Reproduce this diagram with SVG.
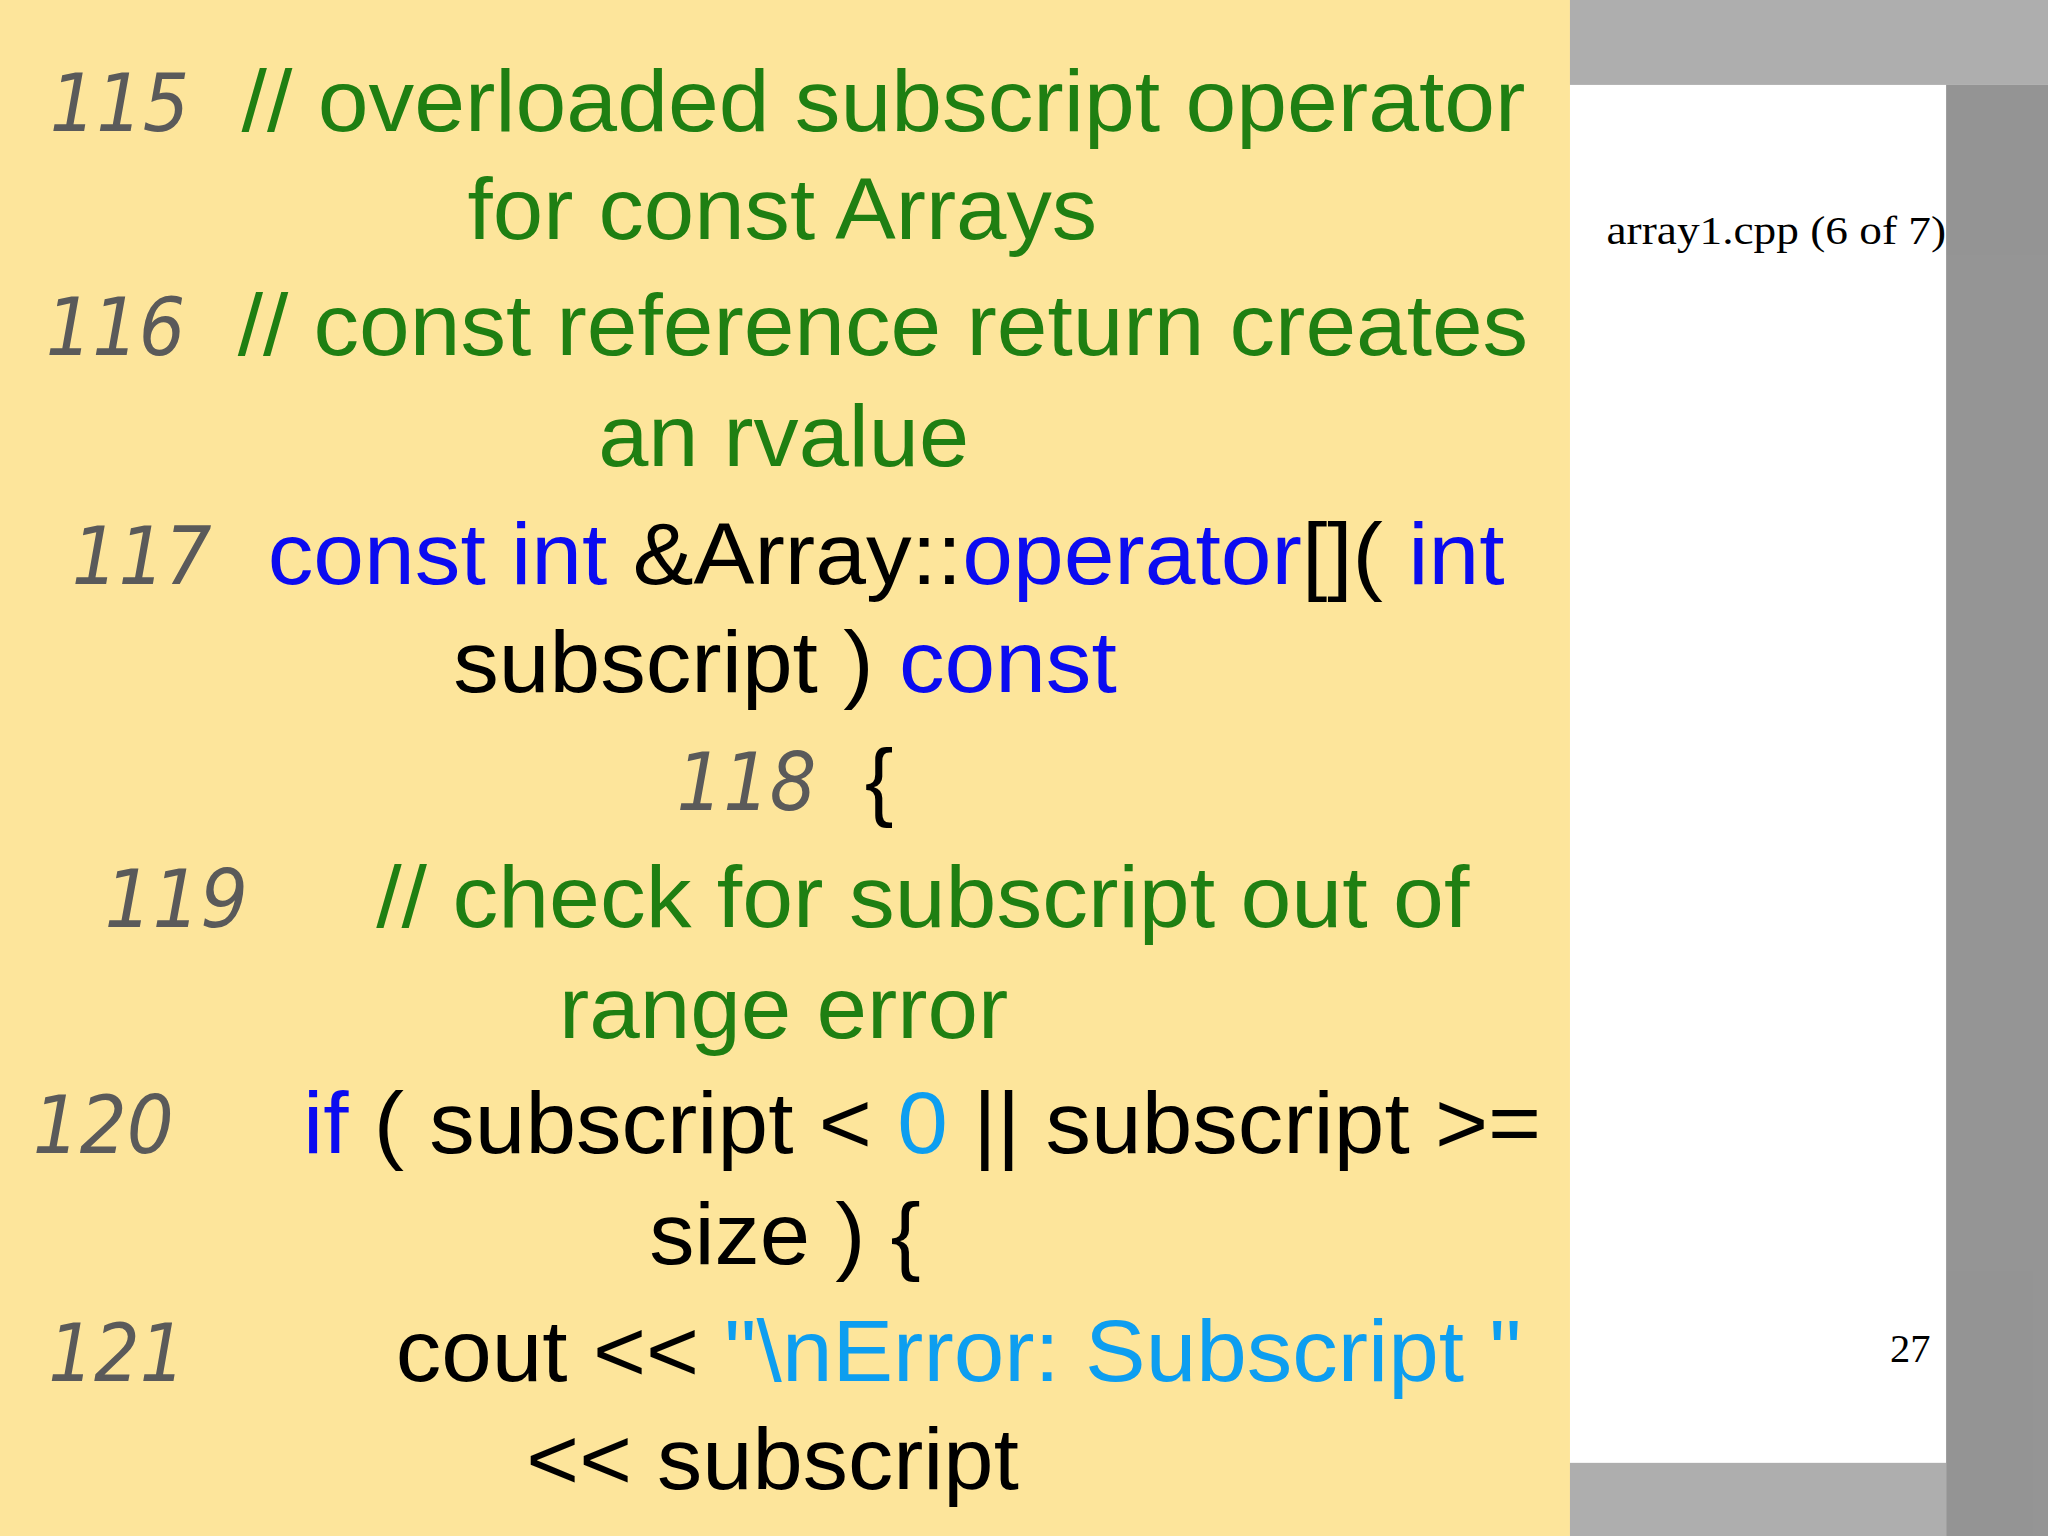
<svg xmlns="http://www.w3.org/2000/svg" width="2048" height="1536" viewBox="0 0 2048 1536">
<style>
.c{font-family:"Liberation Sans",Arial,sans-serif;font-size:66px}
.n{font-family:"DejaVu Sans",sans-serif;font-style:italic;font-size:62px;fill:#5a5a5a}
.g{fill:#1f7f12}.b{fill:#0b0bf0}.lb{fill:#0d9ef0}.k{fill:#000}
.s{font-family:"Liberation Serif","Times New Roman",serif;font-size:31px;fill:#000}
</style>
<g transform="scale(1.30612)">
<rect width="1568" height="1176" fill="#fff"/>
<rect width="1202" height="1176" fill="#fde59b"/>
<g id="deco" fill="#333" opacity="0.8">
<rect x="1202" y="0" width="366" height="65" fill="#9a9a9a"/>
<rect x="1490" y="65" width="78" height="1111" fill="#7a7a7a"/>
<rect x="1202" y="1120" width="288" height="56" fill="#9a9a9a"/>
</g>
<g id="l115"><text class="n" x="38" y="100" textLength="107" lengthAdjust="spacingAndGlyphs">115</text>
<text class="c g" x="185" y="100" textLength="983" lengthAdjust="spacingAndGlyphs">// overloaded subscript operator</text>
<text class="c g" x="358" y="183" textLength="482" lengthAdjust="spacingAndGlyphs">for const Arrays</text></g>
<g id="l116"><text class="n" x="35" y="272" textLength="107" lengthAdjust="spacingAndGlyphs">116</text>
<text class="c g" x="182" y="272" textLength="988" lengthAdjust="spacingAndGlyphs">// const reference return creates</text>
<text class="c g" x="458" y="357" textLength="284" lengthAdjust="spacingAndGlyphs">an rvalue</text></g>
<g id="l117"><text class="n" x="55" y="447" textLength="107" lengthAdjust="spacingAndGlyphs">117</text>
<text class="c k" x="205" y="447" textLength="947" lengthAdjust="spacingAndGlyphs"><tspan class="b">const int </tspan>&amp;Array::<tspan class="b">operator</tspan>[]( <tspan class="b">int</tspan></text>
<text class="c k" x="347" y="530" textLength="508" lengthAdjust="spacingAndGlyphs">subscript ) <tspan class="b">const</tspan></text></g>
<g id="l118"><text class="n" x="518" y="620" textLength="107" lengthAdjust="spacingAndGlyphs">118</text><text class="c k" x="662" y="620">{</text></g>
<g id="l119"><text class="n" x="80" y="710" textLength="110" lengthAdjust="spacingAndGlyphs">119</text>
<text class="c g" x="288" y="710" textLength="837" lengthAdjust="spacingAndGlyphs">// check for subscript out of</text>
<text class="c g" x="428" y="795" textLength="344" lengthAdjust="spacingAndGlyphs">range error</text></g>
<g id="l120"><text class="n" x="25" y="883" textLength="108" lengthAdjust="spacingAndGlyphs">120</text>
<text class="c k" x="232" y="883" textLength="948" lengthAdjust="spacingAndGlyphs"><tspan class="b">if</tspan> ( subscript &lt; <tspan class="lb">0</tspan> || subscript &gt;=</text>
<text class="c k" x="497" y="968" textLength="208" lengthAdjust="spacingAndGlyphs">size ) {</text></g>
<g id="l121"><text class="n" x="37" y="1057" textLength="105" lengthAdjust="spacingAndGlyphs">121</text>
<text class="c k" x="303" y="1057" textLength="862" lengthAdjust="spacingAndGlyphs">cout &lt;&lt; <tspan class="lb">"\nError: Subscript "</tspan></text>
<text class="c k" x="403" y="1140" textLength="377" lengthAdjust="spacingAndGlyphs">&lt;&lt; subscript</text></g>
<g id="side"><text class="s" x="1230" y="187" textLength="260" lengthAdjust="spacingAndGlyphs">array1.cpp (6 of 7)</text>
<text class="s" x="1447" y="1043">27</text></g>
</g>
</svg>
